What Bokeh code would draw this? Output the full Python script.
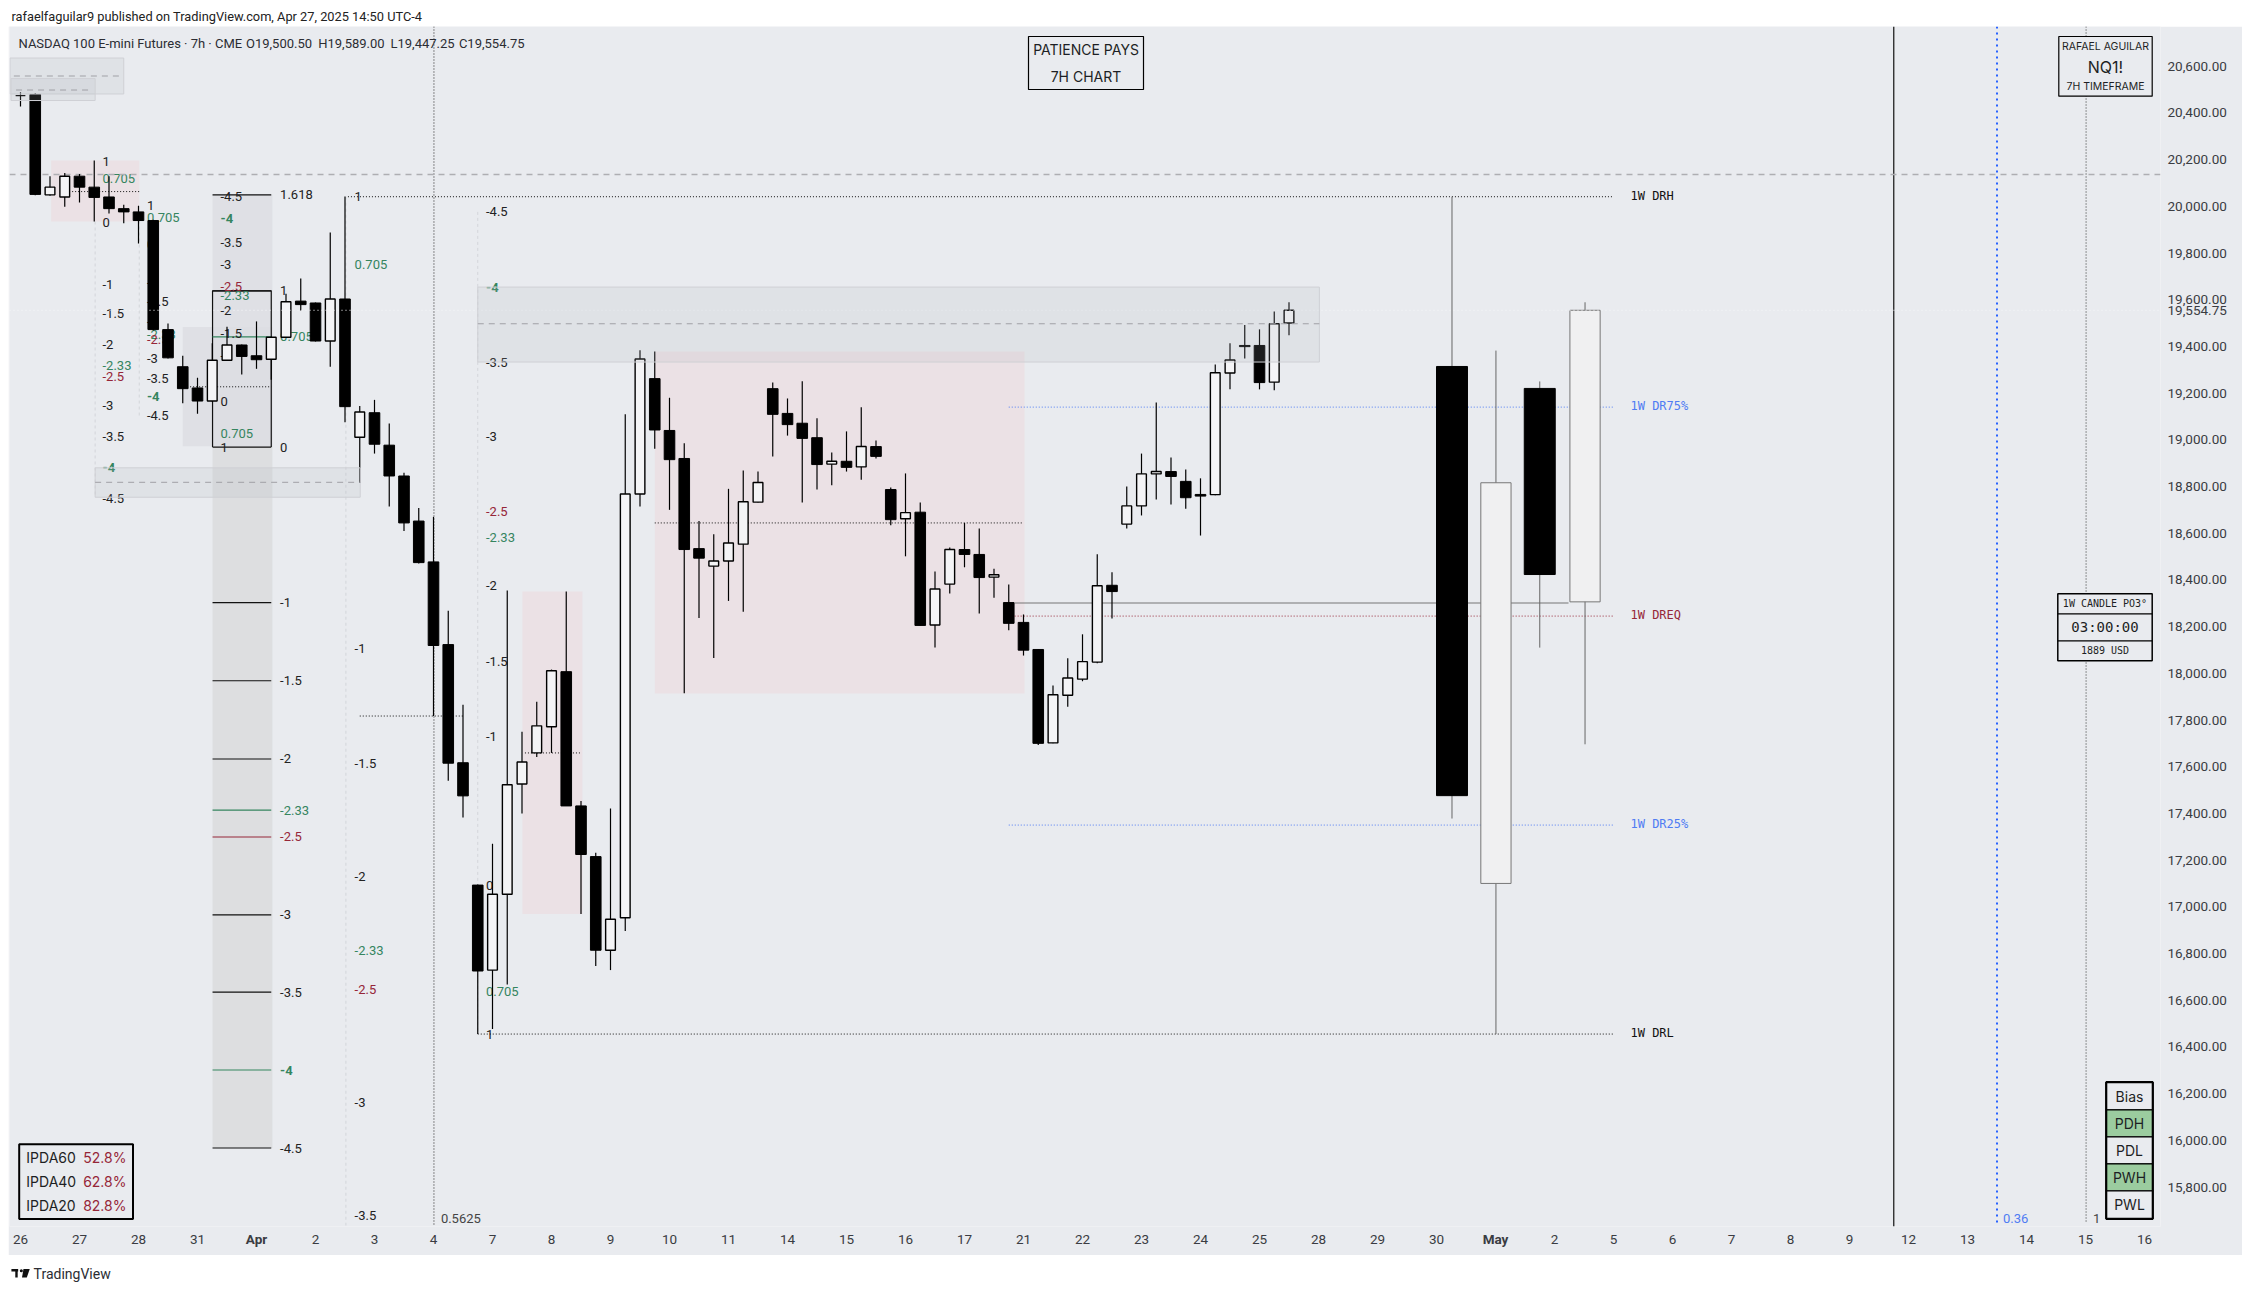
from bokeh.plotting import figure
from bokeh.layouts import column
from bokeh.models import Range1d, FixedTicker, NumeralTickFormatter, LinearAxis
from bokeh.core.properties import value
from bokeh.embed import file_html
from bokeh.resources import INLINE

PANE = "#e9ebef"
GREEN = "#35855f"
RED = "#962638"
BLUE = "#4f7cf3"
AXIS_TXT = "#3a3c42"

# ---- candles (7h bars, index = bar number) ----
opens = [20474,20479,20049,20040,20129,20082,20040,19990,19976,19939,19472,19313,19222,19166,19341,19406,19360,19345,19439,19594,
         19586,19423,19603,19011,19116,18977,18845,18652,18477,18123,17617,17093,16729,17054,17526,17659,17771,18007,17432,17215,
         16814,16953,18768,19262,19040,18920,18534,18459,18481,18553,18733,19219,19113,19071,19009,18896,18908,18884,18971,18787,
         18662,18690,18207,18382,18530,18509,18412,18303,18218,18102,17702,17906,17975,18048,18377,18639,18717,18854,18864,18822,
         18766,18765,19286,19404,19404,19247,19500.5]
highs = [20488,20485,20129,20143,20138,20196,20129,20007,20002,19942,19498,19360,19266,19413,19484,19408,19507,19442,19626,19691,
         19588,19888,20042,19145,19171,19070,18859,18708,18670,18268,17865,17095,17270,18355,17750,17878,18016,18350,17453,17231,
         17421,19109,19383,19378,19180,18985,18652,18595,18790,18869,18864,19245,19177,19251,19092,18946,19036,19139,18997,18796,
         18856,18732,18436,18539,18644,18620,18448,18380,18252,18104,17948,18064,18167,18510,18433,18800,18941,19160,18924,18873,
         18835,19322,19413,19492,19473,19550,19589]
lows = [20427,20047,20045,19998,20016,19935,19969,19927,19841,19468,19348,19156,19112,19163,19339,19280,19304,19257,19437,19554,
        19421,19313,19075,18815,18941,18714,18609,18470,17817,17540,17382,16455,16477,16667,17400,17642,17659,17432,16969,16747,
        16729,16896,18714,18962,18700,17915,18237,18066,18310,18264,18731,18929,19018,18731,18787,18805,18864,18829,18920,18634,
        18501,18205,18111,18342,18454,18256,18324,18184,18076,17693,17700,17857,17966,18043,18235,18620,18676,18744,18723,18705,
        18590,18763,19216,19348,19216,19212,19447.25]
closes = [20474,20051,20082,20129,20082,20038,19990,19976,19939,19472,19351,19219,19166,19341,19406,19357,19343,19439,19591,19579,
          19423,19603,19142,19119,18981,18845,18644,18474,18119,17615,17475,16725,17054,17523,17620,17775,18011,17432,17224,16814,
          16947,18768,19346,19042,18915,18530,18493,18481,18558,18735,18817,19109,19065,19006,18894,18908,18882,18971,18929,18658,
          18688,18205,18361,18530,18509,18410,18422,18214,18099,17700,17908,17980,18050,18375,18350,18717,18854,18864,18843,18752,
          18759,19287,19342,19399,19245,19497,19554.75]

# ---- weekly candles drawn to the right ----
week_bar = [97.05, 100.03, 103.0, 106.07]
week_open = [19314, 17100, 19220, 18306]
week_high = [20041, 19382, 19250, 19589]
week_low = [17378, 16455, 18110, 17696]
week_close = [17476, 18816, 18423, 19554.75]

# ---- fib label sets ----
set_a_txt = ["1","0.705","0","-1","-1.5","-2","-2.33","-2.5","-3","-3.5","-4","-4.5"]
set_a_val = [20194,20117,19932,19666,19539,19406,19320,19271,19145,19012,18883,18750]
set_b_val = [20002,19953,19837,19672,19593,19507,19453,19430,19348,19264,19184,19102]
set_c_val = [18969,19028,19165,19362,19456,19554,19617,19656,19752,19846,19946,20042]
set_d_txt = ["1","0.705","0","-1","-1.5","-2","-2.33","-2.5","-3","-3.5"]
set_d_val = [20040,19752,19068,18105,17615,17130,16814,16645,16164,15678]
set_e_val = [16454,16638,17093,17730,18052,18375,18582,18693,19013,19332,19652,19976]
band_txt = ["1.618","1","0.705","0","-1","-1.5","-2","-2.33","-2.5","-3","-3.5","-4","-4.5"]
band_val = [20049,19638,19441,18969,18303,17968,17633,17414,17299,16965,16635,16301,15967]

price_ticks = [15800,16000,16200,16400,16600,16800,17000,17200,17400,17600,17800,18000,18200,18400,18600,18800,
               19000,19200,19400,19600,19800,20000,20200,20400,20600]
last_price = 19554.75
date_labels = ["26","27","28","31","Apr","2","3","4","7","8","9","10","11","14","15","16","17","21","22","23","24","25",
               "28","29","30","May","2","5","6","7","8","9","12","13","14","15","16"]

level_names = ["1W DRH","1W DR75%","1W DREQ","1W DR25%","1W DRL"]
level_vals = [20041,19140,18245,17350,16455]
level_cols = ["#111111",BLUE,RED,BLUE,"#111111"]

W, H = 2234, 1229

def X(px):
    return (px - 20) / 14.75

def Y(py):
    return 20600 - (py - 65.7) / 0.2335

def strip(h):
    f = figure(width=W, height=h, x_range=Range1d(8, 8 + W), y_range=Range1d(h, 0), toolbar_location=None,
               output_backend="svg", min_border=0, border_fill_color="white", background_fill_color="white",
               outline_line_color=None)
    f.axis.visible = False
    f.grid.visible = False
    return f

# header
head = strip(18)
head.text([10], [8], text=["rafaelfaguilar9 published on TradingView.com, Apr 27, 2025 14:50 UTC-4"],
          text_font=value("Roboto"), text_font_size="12.8px", text_color="#222222", text_baseline="middle")

# main
p = figure(width=W, height=H, x_range=Range1d(X(9), X(2160)), y_range=Range1d(Y(1226), Y(26)),
           toolbar_location=None, output_backend="svg", y_axis_location="right",
           min_border_left=1, min_border_right=82, min_border_top=0, min_border_bottom=29,
           background_fill_color=PANE, border_fill_color=PANE, outline_line_color=None)
p.grid.visible = False
p.xaxis.ticker = FixedTicker(ticks=[4 * i for i in range(len(date_labels))])
p.xaxis.major_label_overrides = {4 * i: ("" if t in ("Apr", "May") else t) for i, t in enumerate(date_labels)}
p.yaxis.ticker = FixedTicker(ticks=price_ticks)
p.yaxis.formatter = NumeralTickFormatter(format="0,0.00")
month_axis = LinearAxis(ticker=FixedTicker(ticks=[4 * i for i, t in enumerate(date_labels) if t in ("Apr", "May")]),
                        major_label_overrides={4 * i: t for i, t in enumerate(date_labels) if t in ("Apr", "May")},
                        major_label_text_font_style="bold")
tag_axis = LinearAxis(ticker=FixedTicker(ticks=[last_price]), formatter=NumeralTickFormatter(format="0,0.00"))
p.add_layout(month_axis, "below")
p.add_layout(tag_axis, "right")
for ax in (p.xaxis[0], p.yaxis[0], month_axis, tag_axis):
    ax.axis_line_color = None
    ax.major_tick_line_color = None
    ax.minor_tick_line_color = None
    ax.major_tick_out = 0
    ax.major_tick_in = 0
    ax.major_label_text_font = "Roboto"
    ax.major_label_text_font_size = "13.5px"
    ax.major_label_text_color = AXIS_TXT
p.xaxis[0].major_label_standoff = 8
p.yaxis[0].major_label_standoff = 7
month_axis.major_label_standoff = -16
tag_axis.major_label_standoff = -62

# pink zones
p.quad(left=[2.08, 34.03, 43.0], right=[8.05, 38.1, 68.07], top=[20196, 18350, 19378], bottom=[19935, 16969, 17913],
       fill_color="#ebe1e5", line_color=None)
# band
p.quad(left=[13.02], right=[17.08], top=[18969], bottom=[15967], fill_color="#dddee0", line_color=None)
p.quad(left=[13.02], right=[17.08], top=[20049], bottom=[18969], fill_color="#dfe0e5", line_color=None)
p.quad(left=[11.0], right=[17.08], top=[19483], bottom=[18972], fill_color="#dcdde2", line_color=None, fill_alpha=0.8)

# faint verticals
p.segment(x0=[5.06, 8.05, 22.06, 31.0], x1=[5.06, 8.05, 22.06, 31.0], y0=[19935, 19939, 20041, 19976], y1=[18754, 19102, Y(1225), 16455],
          line_color="#d3d5da", line_dash="3 3", line_width=1)

# dotted black pieces
p.segment(x0=[3.5, 11.5, 23.0, 34.2, 43.0], x1=[8.05, 17.0, 30.0, 38.0, 68.0], y0=[20063, 19227, 17817, 17659, 18644], y1=[20063, 19227, 17817, 17659, 18644],
          line_color="#111111", line_dash="1 2", line_width=1)

# fib box outline and lines
p.multi_line(xs=[[13.02, 13.02, 17.0, 17.0]], ys=[[18969, 19638, 19638, 18969]], line_color="#111111", line_width=1.2)
for v, t in zip(band_val, band_txt):
    if t != "0.705":
        col = GREEN if t in ("-2.33", "-4") else RED if t == "-2.5" else "#111111"
        p.segment([13.02], [v], [17.0], [v], line_color=col, line_width=1.2)
p.segment([13.02], [19441], [17.0], [19441], line_color=GREEN, line_width=1.3)


def colour(t):
    return GREEN if t in ("0.705", "-2.33", "-4") else RED if t == "-2.5" else "#222222"


def fib(bars, vals, txt):
    p.text(bars, vals, text=txt, text_font=value("Roboto"), text_font_size="13px",
           text_color=[colour(t) for t in txt], text_baseline="middle",
           text_font_style=["bold" if t == "-4" else "normal" for t in txt])


fib([5.56] * 12, set_a_val, set_a_txt)
fib([8.57] * 12, set_b_val, set_a_txt)
fib([13.56] * 12, set_c_val, set_a_txt)
fib([22.65] * 10, set_d_val, set_d_txt)
fib([31.56] * 12, set_e_val, set_a_txt)
fib([17.6] * 13, band_val, band_txt)

# levels
p.segment(x0=[22.2, 67.0, 67.4, 67.0, 31.0], x1=[107.98] * 5, y0=level_vals, y1=level_vals,
          line_color=level_cols, line_dash="1 2", line_width=1)
p.segment([67.4], [18301], [104.95], [18301], line_color="#777777", line_width=1.2)
p.text([109.15] * 5, [v + 4 for v in level_vals], text=level_names, text_font=value("DejaVu Sans Mono"), text_font_size="12px",
       text_color=level_cols, text_baseline="middle")

# verticals
p.segment([28.03], [Y(26)], [28.03], [Y(1225)], line_color="#222222", line_dash="1 2", line_width=1)
p.segment([127.0], [Y(26)], [127.0], [Y(1226)], line_color="#222222", line_width=1.3)
p.segment([134.0], [Y(26)], [134.0], [Y(1223)], line_color="#2962ff", line_dash="2 4", line_width=2)
p.segment([140.04], [Y(26)], [140.04], [Y(1223)], line_color="#333333", line_dash="1 2", line_width=1)
p.text([28.5, 134.4, 140.5], [Y(1217.5)] * 3, text=["0.5625", "0.36", "1"], text_font=value("Roboto"), text_font_size="13px",
       text_color=["#444444", BLUE, "#444444"], text_baseline="middle")

# dashed long line
p.segment([X(9)], [20136], [X(2160)], [20136], line_color="#aeaeb2", line_dash="6 5", line_width=1.5)

# candles
idx = list(range(len(opens)))
p.segment(idx, highs, idx, lows, line_color="#000000", line_width=1.2)
up = [i for i in idx if closes[i] >= opens[i]]
dn = [i for i in idx if closes[i] < opens[i]]
p.vbar([i for i in up], 0.66, [opens[i] for i in up], [closes[i] for i in up], fill_color="#f4f4f6", line_color="#000000", line_width=1.4)
p.vbar([i for i in dn], 0.72, [closes[i] for i in dn], [opens[i] for i in dn], fill_color="#000000", line_color="#000000", line_width=1)

# weekly candles
p.segment(week_bar, week_high, week_bar, week_low, line_color="#666666", line_width=1)
for b, o, c in zip(week_bar, week_open, week_close):
    if c >= o:
        p.vbar([b], 2.05, [o], [c], fill_color="#f0f0f1", line_color="#777777", line_width=1)
    else:
        p.vbar([b], 2.1, [c], [o], fill_color="#000000", line_color="#000000", line_width=1)

# last price dotted line
p.segment([X(9)], [19554.75], [X(2160)], [19554.75], line_color="#f7f7f9", line_dash="1 3", line_width=1)

# grey zones over candles
p.quad(left=[X(9.5), X(10.5), 5.06, 31.0], right=[7.0, 5.06, 23.03, 88.06], top=[20635, 20547, 18880, 19654],
       bottom=[20481, 20453, 18754, 19333], fill_color="#b0b2b8", fill_alpha=0.16, line_color="#cfd0d5", line_width=1)
p.segment([-0.45, -0.3, 5.06, 31.0], [20558, 20498, 18818, 19497], [6.9, 4.9, 23.03, 88.06], [20558, 20498, 18818, 19497],
          line_color="#a0a1a6", line_dash="6 5", line_width=1)


def box(x0, x1, y0, y1, fill=PANE, lw=1.5):
    p.quad(left=[X(x0)], right=[X(x1)], top=[Y(y0)], bottom=[Y(y1)], fill_color=fill, line_color="#000000", line_width=lw)


def put(px, py, s, size=13, font="Inter", col="#1d1f24", align="center", style="normal"):
    p.text([X(px)], [Y(py)], text=[s], text_font=value(font), text_font_size=f"{size}px", text_color=col,
           text_align=align, text_baseline="middle", text_font_style=style)


# legend line
put(18, 43, "NASDAQ 100 E-mini Futures · 7h · CME", 13, "Roboto", col="#2b2d33", align="left")
for lx, s in zip([245.5, 317.7, 390, 458.4], ["O19,500.50", "H19,589.00", "L19,447.25", "C19,554.75"]):
    put(lx, 43, s, 13, "Roboto", col="#2b2d33", align="left")

# title box
box(1028, 1143, 36, 89, lw=1.2)
put(1085.5, 48.8, "PATIENCE PAYS", 14)
put(1085.5, 76, "7H CHART", 14)

# NQ box
box(2058.3, 2151.7, 36, 95.7, lw=1.2)
put(2105, 45.7, "RAFAEL AGUILAR", 10.5)
put(2105, 66, "NQ1!", 16)
put(2105, 86.3, "7H TIMEFRAME", 10.5)

# timer box
box(2057.3, 2151.7, 593.3, 660.3)
p.segment([X(2057.3)] * 2, [Y(613.3), Y(640.3)], [X(2151.7)] * 2, [Y(613.3), Y(640.3)], line_color="#000000", line_width=1.2)
put(2104.5, 603, "1W CANDLE PO3°", 10, "DejaVu Sans Mono")
put(2104.5, 626.5, "03:00:00", 14, "DejaVu Sans Mono")
put(2104.5, 650, "1889 USD", 10, "DejaVu Sans Mono")

# bias table
rows = ["Bias", "PDH", "PDL", "PWH", "PWL"]
row_y = [1081.7, 1109.3, 1136.3, 1163.3, 1190.3, 1218.3]
for i, r in enumerate(rows):
    box(2105.7, 2152.3, row_y[i], row_y[i + 1], fill="#9bcc9f" if r in ("PDH", "PWH") else PANE, lw=1.2)
    put(2129, (row_y[i] + row_y[i + 1]) / 2, r, 14)
p.quad(left=[X(2105.7)], right=[X(2152.3)], top=[Y(1081.7)], bottom=[Y(1218.3)], fill_color=None, line_color="#000000", line_width=2.2)

# IPDA table
box(18.7, 132.5, 1143.7, 1218.4, lw=2)
ipda_names = ["IPDA60", "IPDA40", "IPDA20"]
ipda_vals = ["52.8%", "62.8%", "82.8%"]
for yy, n, v in zip([1157.4, 1181, 1205], ipda_names, ipda_vals):
    put(25.8, yy, n, 14, align="left")
    put(126, yy, v, 14, col=RED, align="right")

# footer
foot = strip(27)
foot.quad(left=[10, 14], right=[17, 16.5], top=[13.5, 13.5], bottom=[16, 22], fill_color="#111111", line_color=None)
foot.circle(x=[20.3], y=[15.3], radius=1.6, fill_color="#111111", line_color=None)
foot.patch(x=[22.5, 29, 26, 21], y=[13.5, 13.5, 22, 22], fill_color="#111111", line_color=None)
foot.text([33], [18.5], text=["TradingView"], text_font=value("Roboto"), text_font_size="14px", text_color="#2b2d33", text_baseline="middle")

page = column(head, p, foot, margin=(8, 8, 0, 8))
open("out.html", "w").write(file_html(page, INLINE))
